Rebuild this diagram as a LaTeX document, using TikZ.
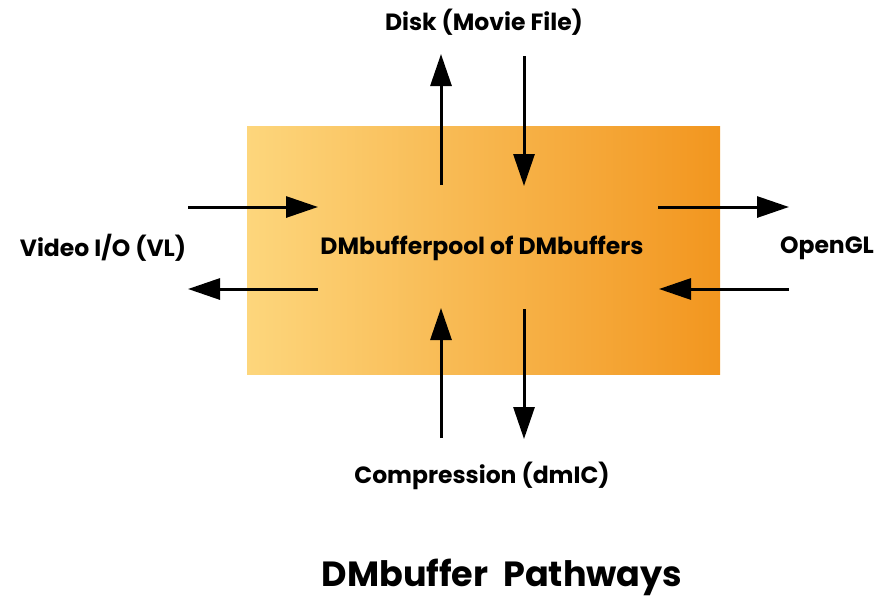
\documentclass[tikz,border=0pt]{standalone}
\usepackage{fontspec}
\setmainfont{Poppins}
\usetikzlibrary{arrows.meta}
\definecolor{boxL}{HTML}{FDD67C}
\definecolor{boxR}{HTML}{F2961F}
\tikzset{
  flow/.style={line width=3pt, -{Triangle[length=32pt,width=21pt]}},
  lbl/.style={font=\bfseries\fontsize{23.5}{26}\selectfont, inner sep=0pt},
}
\begin{document}
\begin{tikzpicture}[x=1pt,y=-1pt]
\useasboundingbox (0,0) rectangle (890,598);
\fill[left color=boxL, right color=boxR] (247,126) rectangle (720,374);
\node[lbl] (pool) at (482,248) {DMbufferpool of DMbuffers};
\node[lbl] (disk) at (484,22) {Disk (Movie File)};
\node[lbl] (video) at (103,248) {Video I/O (VL)};
\node[lbl] (gl) at (827,248) {OpenGL};
\node[lbl] (comp) at (482,476) {Compression (dmIC)};
\node[font=\bfseries\fontsize{35}{40}\selectfont, inner sep=0pt, anchor=base] (title) at (502,586) {DMbuffer\ \ Pathways};
% endpoints
\coordinate (vinA) at (188,207); \coordinate (vinB) at (318,207);
\coordinate (voutA) at (318,289); \coordinate (voutB) at (188,289);
\coordinate (dupA) at (441,185); \coordinate (dupB) at (441,54);
\coordinate (ddnA) at (524,56); \coordinate (ddnB) at (524,186);
\coordinate (goutA) at (658,207); \coordinate (goutB) at (789,207);
\coordinate (ginA) at (789,289); \coordinate (ginB) at (659,289);
\coordinate (cupA) at (441,438); \coordinate (cupB) at (441,308);
\coordinate (cdnA) at (524,309); \coordinate (cdnB) at (524,439);
\draw[flow] (vinA) -- (vinB);
\draw[flow] (voutA) -- (voutB);
\draw[flow] (dupA) -- (dupB);
\draw[flow] (ddnA) -- (ddnB);
\draw[flow] (goutA) -- (goutB);
\draw[flow] (ginA) -- (ginB);
\draw[flow] (cupA) -- (cupB);
\draw[flow] (cdnA) -- (cdnB);
\end{tikzpicture}
\end{document}
